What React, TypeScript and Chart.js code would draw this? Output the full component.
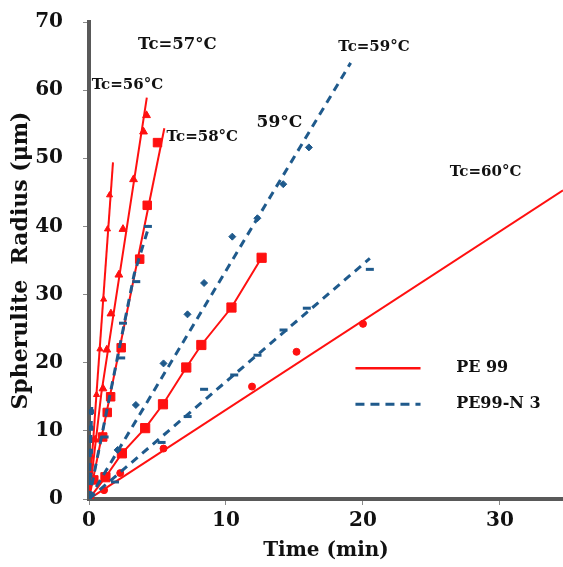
import React, { useEffect, useRef } from "react";
import { Chart, registerables } from "chart.js";
Chart.register(...registerables);

// ---------- DATA ----------
const xTicks = [0, 10, 20, 30];
const yTicks = [0, 10, 20, 30, 40, 50, 60, 70];
const seriesNames = ["PE 99", "PE99-N 3"];

// PE 99, Tc = 56 °C
const pe56LineT = [0, 1.75];
const pe56LineR = [0, 49.4];
const pe56T = [0.12, 0.33, 0.55, 0.8, 1.07, 1.35, 1.5];
const pe56R = [3, 8.7, 15.3, 22, 29.3, 39.6, 44.6];

// PE 99, Tc = 57 °C
const pe57LineT = [0, 0.9, 4.22];
const pe57LineR = [0, 15.5, 58.9];
const pe57T = [0.45, 1.02, 1.3, 1.6, 2.18, 2.48, 3.25, 3.98, 4.2];
const pe57R = [8.7, 16.2, 21.9, 27.2, 32.9, 39.6, 46.9, 53.9, 56.3];

// PE 99, Tc = 58 °C
const pe58LineT = [0, 5.5];
const pe58LineR = [0, 54.4];
const pe58T = [0.35, 1.0, 1.33, 1.58, 2.35, 3.7, 4.25, 5.0];
const pe58R = [2.8, 9.1, 12.7, 15, 22.2, 35.2, 43.1, 52.3];

// PE 99, Tc = 59 °C
const pe59T = [0, 1.2, 2.4, 4.1, 5.4, 7.1, 8.2, 10.4, 12.6];
const pe59R = [0, 3.2, 6.7, 10.4, 13.9, 19.3, 22.6, 28.1, 35.4];

// PE 99, Tc = 60 °C
const pe60LineT = [0, 34.6];
const pe60LineR = [0, 45.3];
const pe60T = [1.1, 2.28, 5.44, 11.9, 15.15, 20.0];
const pe60R = [1.3, 3.8, 7.4, 16.5, 21.6, 25.7];

// PE99-N 3, Tc = 56 °C
const n56LineT = [0, 0.2];
const n56LineR = [0, 13.5];
const n56T = [0, 0.05, 0.1, 0.13, 0.17];
const n56R = [0, 3.5, 7, 10.4, 12.8];

// PE99-N 3, Tc = 57 °C
const n57LineT = [0, 3.3, 4.4];
const n57LineR = [0, 33, 40.2];
const n57T = [1.14, 2.35, 2.48, 3.45, 4.3];
const n57R = [9.1, 20.7, 25.8, 31.9, 40];

// PE99-N 3, Tc = 59 °C
const n59LineT = [0, 19.1];
const n59LineR = [0, 64];
const n59T = [2.09, 3.42, 5.44, 7.19, 8.4, 10.46, 12.29, 14.18, 16.05];
const n59R = [7.2, 13.8, 19.9, 27.1, 31.7, 38.5, 41.2, 46.2, 51.6];

// PE99-N 3, Tc = 60 °C
const n60LineT = [0, 20.5];
const n60LineR = [0, 35.3];
const n60T = [1.9, 5.3, 7.2, 8.4, 10.6, 12.3, 14.2, 15.9, 20.5];
const n60R = [2.5, 8.3, 12.1, 16.1, 18.2, 21.1, 24.8, 28, 33.7];

// annotation texts
const labelTexts = ["Tc=57°C", "Tc=56°C", "Tc=58°C", "59°C", "Tc=59°C", "Tc=60°C"];

// ---------- STYLE ----------
const RED = "#ff1010";
const BLUE = "#1f5a8c";
const FONT = '"DejaVu Serif", serif';
const labelPlace = [
  { t: 6.45, r: 66.6, size: 16.5 },
  { t: 2.8, r: 60.8, size: 15 },
  { t: 8.27, r: 53.1, size: 15 },
  { t: 13.9, r: 55.3, size: 17 },
  { t: 20.8, r: 66.3, size: 15 },
  { t: 28.95, r: 48.0, size: 15 },
];
const legendPlace = [
  { t1: 19.45, t2: 24.2, r: 19.2, tx: 26.8 },
  { t1: 19.45, t2: 24.2, r: 13.9, tx: 26.8 },
];

const pts = (t: number[], r: number[]) => t.map((v, i) => ({ x: v, y: r[i] }));

function lineDs(t: number[], r: number[], color: string, dashed: boolean) {
  return {
    data: pts(t, r),
    showLine: true,
    borderColor: color,
    borderWidth: dashed ? 3 : 2,
    borderDash: dashed ? [8, 6] : [],
    pointRadius: 0,
    fill: false,
    tension: 0,
  };
}
function markDs(t: number[], r: number[], color: string, style: string, radius: number, bw = 1) {
  return {
    data: pts(t, r),
    showLine: false,
    pointStyle: style,
    pointRadius: radius,
    pointBackgroundColor: color,
    pointBorderColor: color,
    pointBorderWidth: bw,
  };
}

const annotPlugin = {
  id: "annot",
  afterDatasetsDraw(chart: any) {
    const { ctx } = chart;
    const xs = chart.scales.x;
    const ys = chart.scales.y;
    ctx.save();
    ctx.fillStyle = "#111";
    ctx.textAlign = "center";
    ctx.textBaseline = "middle";
    labelTexts.forEach((txt, i) => {
      const p = labelPlace[i];
      ctx.font = `bold ${p.size}px ${FONT}`;
      ctx.fillText(txt, xs.getPixelForValue(p.t), ys.getPixelForValue(p.r));
    });
    seriesNames.forEach((name, i) => {
      const p = legendPlace[i];
      const y = ys.getPixelForValue(p.r);
      ctx.beginPath();
      ctx.strokeStyle = i === 0 ? RED : BLUE;
      ctx.lineWidth = i === 0 ? 2.5 : 3;
      ctx.setLineDash(i === 0 ? [] : [9, 6]);
      ctx.moveTo(xs.getPixelForValue(p.t1), y);
      ctx.lineTo(xs.getPixelForValue(p.t2), y);
      ctx.stroke();
      ctx.setLineDash([]);
      ctx.font = `bold 16px ${FONT}`;
      ctx.textAlign = "left";
      ctx.fillStyle = "#111";
      ctx.fillText(name, xs.getPixelForValue(p.tx), y);
    });
    ctx.restore();
  },
};

export default function App() {
  const ref = useRef<HTMLCanvasElement>(null);
  useEffect(() => {
    document.body.style.margin = "0";
    const datasets: any[] = [
      lineDs(n56LineT, n56LineR, BLUE, true),
      markDs(n56T, n56R, BLUE, "rect", 3),
      lineDs(n57LineT, n57LineR, BLUE, true),
      markDs(n57T, n57R, BLUE, "line", 4, 3),
      lineDs(n59LineT, n59LineR, BLUE, true),
      markDs(n59T, n59R, BLUE, "rectRot", 3.5),
      lineDs(n60LineT, n60LineR, BLUE, true),
      markDs(n60T, n60R, BLUE, "line", 4, 3),
      lineDs(pe56LineT, pe56LineR, RED, false),
      markDs(pe56T, pe56R, RED, "triangle", 3.5),
      lineDs(pe57LineT, pe57LineR, RED, false),
      markDs(pe57T, pe57R, RED, "triangle", 4.5),
      lineDs(pe58LineT, pe58LineR, RED, false),
      markDs(pe58T, pe58R, RED, "rect", 6),
      lineDs(pe59T, pe59R, RED, false),
      markDs(pe59T, pe59R, RED, "rect", 6.5),
      lineDs(pe60LineT, pe60LineR, RED, false),
      markDs(pe60T, pe60R, RED, "circle", 3.5),
    ];
    const tickFont = { family: FONT, size: 20, weight: "bold" as const };
    const chart = new Chart(ref.current!, {
      type: "scatter",
      data: { datasets },
      plugins: [annotPlugin],
      options: {
        animation: false,
        responsive: false,
        devicePixelRatio: 1,
        layout: { autoPadding: false, padding: { left: 0, right: 0, top: 22, bottom: 0 } },
        plugins: { legend: { display: false }, tooltip: { enabled: false } },
        scales: {
          x: {
            type: "linear",
            min: 0,
            max: 34.6,
            afterBuildTicks: (s: any) => {
              s.ticks = xTicks.map((v) => ({ value: v }));
            },
            afterFit: (s: any) => {
              s.height = 68;
              s.paddingLeft = 0;
              s.paddingRight = 0;
            },
            grid: { drawOnChartArea: false, drawTicks: true, tickLength: 6, color: "#8a8a8a", lineWidth: 1 },
            border: { display: true, color: "#595959", width: 4 },
            ticks: { font: tickFont, color: "#111", padding: 4, maxRotation: 0 },
            title: {
              display: true,
              text: "Time (min)",
              font: { family: FONT, size: 20, weight: "bold" },
              color: "#111",
              padding: { top: 0, bottom: 4 },
            },
          },
          y: {
            type: "linear",
            min: 0,
            max: 70,
            afterBuildTicks: (s: any) => {
              s.ticks = yTicks.map((v) => ({ value: v }));
            },
            afterFit: (s: any) => {
              s.width = 89;
              s.paddingTop = 0;
              s.paddingBottom = 0;
            },
            grid: { drawOnChartArea: false, drawTicks: true, tickLength: 6, color: "#8a8a8a", lineWidth: 1 },
            border: { display: true, color: "#595959", width: 4 },
            ticks: { font: tickFont, color: "#111", padding: 20 },
            title: {
              display: true,
              text: "Spherulite  Radius (μm)",
              font: { family: FONT, size: 22, weight: "bold" },
              color: "#111",
              padding: { top: 8, bottom: 0 },
            },
          },
        },
      },
    });
    return () => chart.destroy();
  }, []);
  return (
    <div style={{ position: "fixed", left: 0, top: 0, width: 563, height: 567, background: "#fff" }}>
      <canvas ref={ref} width={563} height={567} style={{ display: "block" }} />
    </div>
  );
}
